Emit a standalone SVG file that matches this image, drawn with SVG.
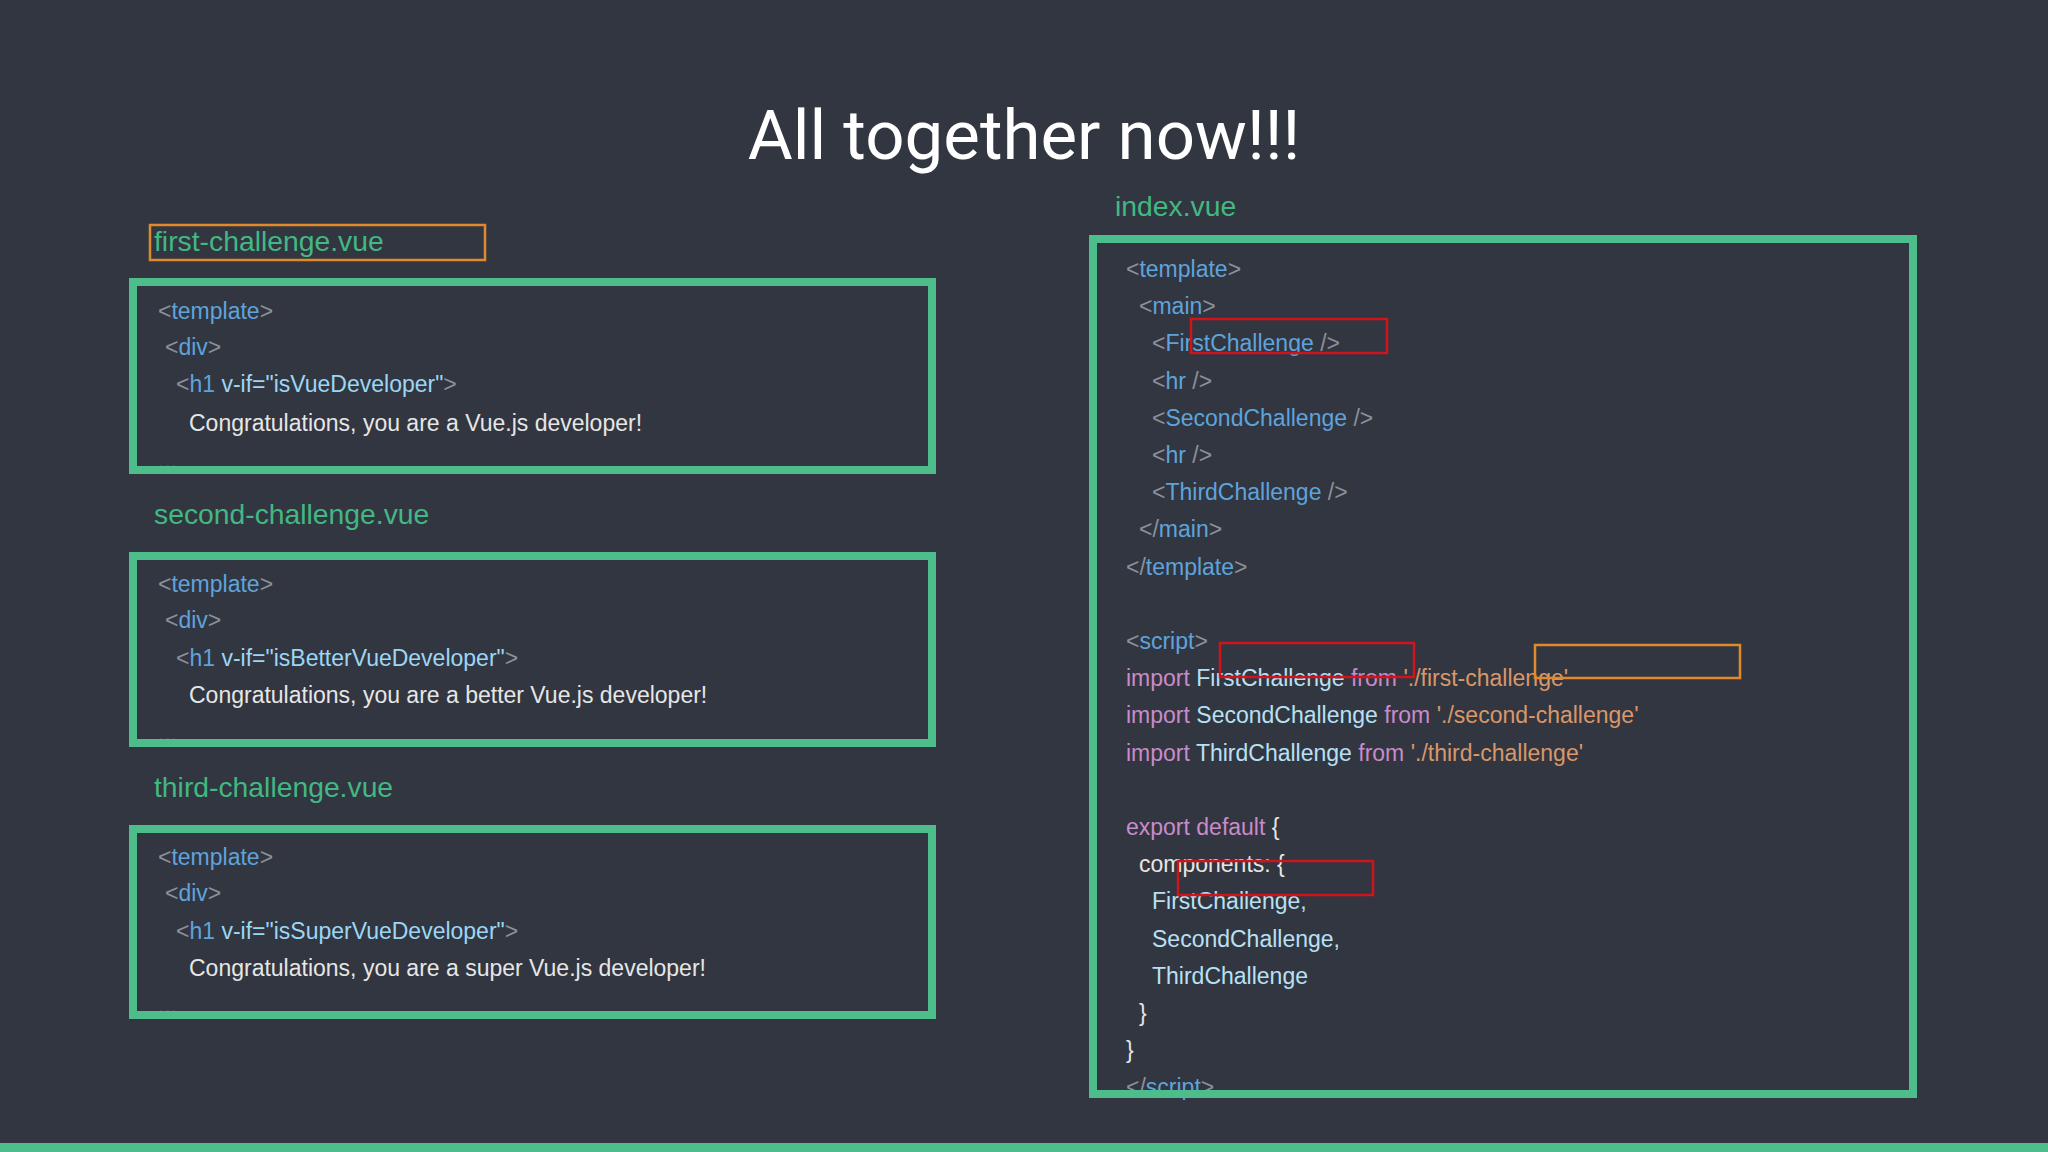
<svg xmlns="http://www.w3.org/2000/svg" width="2048" height="1152" viewBox="0 0 2048 1152">
<style>
.c{font-family:"Liberation Sans",Arial,sans-serif;font-size:23px;fill:#dcdfe4}
.p{fill:#8b9099}.t{fill:#5fa3dc}.a{fill:#9cd6f5}.k{fill:#c98bc9}.s{fill:#d9976a}.i{fill:#b8e0f5}.w{fill:#e6e6e6}
.lbl{font-family:"Liberation Sans",Arial,sans-serif;font-size:28.3px;fill:#42b883}
.box{fill:none;stroke:#4dbd8b;stroke-width:8}
.red{fill:none;stroke:#d0141c;stroke-width:2.5}
.org{fill:none;stroke:#e08a2c;stroke-width:2.5}
</style>
<rect width="2048" height="1152" fill="#323640"/>
<rect y="1143" width="2048" height="9" fill="#4dbd8b"/>
<text x="1024" y="159" text-anchor="middle" font-family="Roboto,'Liberation Sans',sans-serif" font-size="69" fill="#ffffff">All together now!!!</text>

<g id="first">
<text class="lbl" x="154" y="251">first-challenge.vue</text>
<rect class="org" x="150" y="225" width="335" height="35"/>
<g class="c">
<text x="158" y="319"><tspan class="p">&lt;</tspan><tspan class="t">template</tspan><tspan class="p">&gt;</tspan></text>
<text x="165" y="355"><tspan class="p">&lt;</tspan><tspan class="t">div</tspan><tspan class="p">&gt;</tspan></text>
<text x="176" y="392"><tspan class="p">&lt;</tspan><tspan class="t">h1</tspan> <tspan class="a">v-if="isVueDeveloper"</tspan><tspan class="p">&gt;</tspan></text>
<text x="189" y="431" class="w">Congratulations, you are a Vue.js developer!</text>
<text x="158" y="468" class="p" opacity="0.4">...</text>
</g>
<rect class="box" x="133" y="282" width="799" height="188"/>
</g>

<g id="second">
<text class="lbl" x="154" y="524">second-challenge.vue</text>
<g class="c">
<text x="158" y="592"><tspan class="p">&lt;</tspan><tspan class="t">template</tspan><tspan class="p">&gt;</tspan></text>
<text x="165" y="628"><tspan class="p">&lt;</tspan><tspan class="t">div</tspan><tspan class="p">&gt;</tspan></text>
<text x="176" y="666"><tspan class="p">&lt;</tspan><tspan class="t">h1</tspan> <tspan class="a">v-if="isBetterVueDeveloper"</tspan><tspan class="p">&gt;</tspan></text>
<text x="189" y="703" class="w">Congratulations, you are a better Vue.js developer!</text>
<text x="158" y="741" class="p" opacity="0.4">...</text>
</g>
<rect class="box" x="133" y="556" width="799" height="187"/>
</g>

<g id="third">
<text class="lbl" x="154" y="797">third-challenge.vue</text>
<g class="c">
<text x="158" y="865"><tspan class="p">&lt;</tspan><tspan class="t">template</tspan><tspan class="p">&gt;</tspan></text>
<text x="165" y="901"><tspan class="p">&lt;</tspan><tspan class="t">div</tspan><tspan class="p">&gt;</tspan></text>
<text x="176" y="939"><tspan class="p">&lt;</tspan><tspan class="t">h1</tspan> <tspan class="a">v-if="isSuperVueDeveloper"</tspan><tspan class="p">&gt;</tspan></text>
<text x="189" y="976" class="w">Congratulations, you are a super Vue.js developer!</text>
<text x="158" y="1013" class="p" opacity="0.4">...</text>
</g>
<rect class="box" x="133" y="829" width="799" height="186"/>
</g>

<g id="index">
<text class="lbl" x="1115" y="216">index.vue</text>
<g class="c">
<text x="1126" y="277"><tspan class="p">&lt;</tspan><tspan class="t">template</tspan><tspan class="p">&gt;</tspan></text>
<text x="1139" y="314"><tspan class="p">&lt;</tspan><tspan class="t">main</tspan><tspan class="p">&gt;</tspan></text>
<text x="1152" y="351"><tspan class="p">&lt;</tspan><tspan class="t">FirstChallenge</tspan> <tspan class="p">/&gt;</tspan></text>
<text x="1152" y="389"><tspan class="p">&lt;</tspan><tspan class="t">hr</tspan> <tspan class="p">/&gt;</tspan></text>
<text x="1152" y="426"><tspan class="p">&lt;</tspan><tspan class="t">SecondChallenge</tspan> <tspan class="p">/&gt;</tspan></text>
<text x="1152" y="463"><tspan class="p">&lt;</tspan><tspan class="t">hr</tspan> <tspan class="p">/&gt;</tspan></text>
<text x="1152" y="500"><tspan class="p">&lt;</tspan><tspan class="t">ThirdChallenge</tspan> <tspan class="p">/&gt;</tspan></text>
<text x="1139" y="537"><tspan class="p">&lt;/</tspan><tspan class="t">main</tspan><tspan class="p">&gt;</tspan></text>
<text x="1126" y="575"><tspan class="p">&lt;/</tspan><tspan class="t">template</tspan><tspan class="p">&gt;</tspan></text>
<text x="1126" y="649"><tspan class="p">&lt;</tspan><tspan class="t">script</tspan><tspan class="p">&gt;</tspan></text>
<text x="1126" y="686"><tspan class="k">import</tspan> <tspan class="i">FirstChallenge</tspan> <tspan class="k">from</tspan> <tspan class="s">'./first-challenge'</tspan></text>
<text x="1126" y="723"><tspan class="k">import</tspan> <tspan class="i">SecondChallenge</tspan> <tspan class="k">from</tspan> <tspan class="s">'./second-challenge'</tspan></text>
<text x="1126" y="761"><tspan class="k">import</tspan> <tspan class="i">ThirdChallenge</tspan> <tspan class="k">from</tspan> <tspan class="s">'./third-challenge'</tspan></text>
<text x="1126" y="835"><tspan class="k">export default</tspan> <tspan class="w">{</tspan></text>
<text x="1139" y="872" class="w">components: {</text>
<text x="1152" y="909" class="i">FirstChallenge,</text>
<text x="1152" y="947" class="i">SecondChallenge,</text>
<text x="1152" y="984" class="i">ThirdChallenge</text>
<text x="1139" y="1021" class="w">}</text>
<text x="1126" y="1058" class="w">}</text>
<text x="1126" y="1095"><tspan class="p">&lt;/</tspan><tspan class="t">script</tspan><tspan class="p">&gt;</tspan></text>
</g>
<rect class="box" x="1093" y="239" width="820" height="855"/>
<rect class="red" x="1191" y="319" width="196" height="34"/>
<rect class="red" x="1220" y="643" width="194" height="34"/>
<rect class="red" x="1178" y="861" width="195" height="34"/>
<rect class="org" x="1535" y="645" width="205" height="33"/>
</g>
<g id="connectors"/>
</svg>
